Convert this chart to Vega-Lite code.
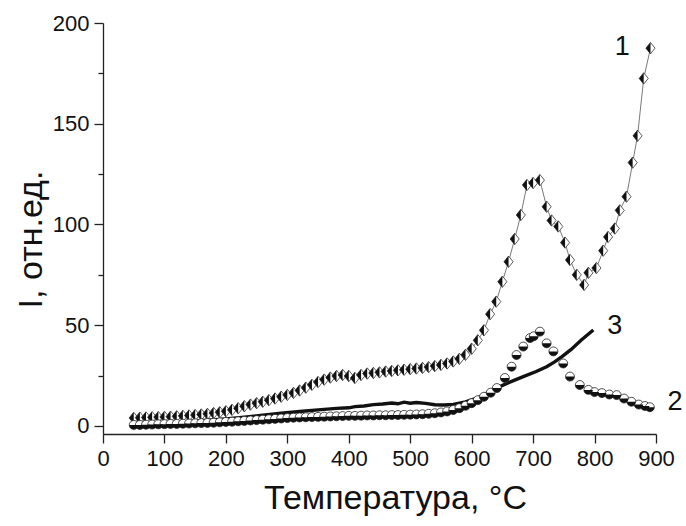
{
  "$schema": "https://vega.github.io/schema/vega-lite/v6.json",
  "autosize": "none",
  "width": 553,
  "height": 411,
  "padding": {"left": 103, "top": 23, "right": 30, "bottom": 92},
  "background": "white",
  "config": {
    "view": {"stroke": null},
    "font": "Liberation Sans",
    "axis": {
      "grid": false,
      "domainColor": "#222",
      "domainWidth": 1.3,
      "tickColor": "#222",
      "tickWidth": 1.3,
      "labelFont": "Liberation Sans",
      "labelFontSize": 22,
      "labelColor": "#111",
      "titleFont": "Liberation Sans",
      "titleFontSize": 34,
      "titleFontWeight": "normal",
      "titleColor": "#111"
    }
  },
  "datasets": {
    "c1": [
      {"T": 50, "I": 4.0}, {"T": 60, "I": 4.1}, {"T": 70, "I": 4.2}, {"T": 80, "I": 4.3}, {"T": 90, "I": 4.4},
      {"T": 100, "I": 4.5}, {"T": 110, "I": 4.6}, {"T": 120, "I": 4.8}, {"T": 130, "I": 5.0}, {"T": 140, "I": 5.2},
      {"T": 150, "I": 5.4}, {"T": 160, "I": 5.7}, {"T": 170, "I": 6.0}, {"T": 180, "I": 6.4}, {"T": 190, "I": 6.8},
      {"T": 200, "I": 7.3}, {"T": 210, "I": 8.0}, {"T": 220, "I": 8.8}, {"T": 230, "I": 9.8}, {"T": 240, "I": 10.6},
      {"T": 250, "I": 11.3}, {"T": 260, "I": 12.0}, {"T": 270, "I": 12.8}, {"T": 280, "I": 13.6}, {"T": 290, "I": 14.5},
      {"T": 300, "I": 15.4}, {"T": 310, "I": 16.4}, {"T": 320, "I": 17.6}, {"T": 330, "I": 19.0}, {"T": 340, "I": 20.4},
      {"T": 350, "I": 21.8}, {"T": 360, "I": 23.0}, {"T": 370, "I": 24.0}, {"T": 380, "I": 24.8}, {"T": 390, "I": 25.3},
      {"T": 400, "I": 24.8}, {"T": 410, "I": 23.8}, {"T": 420, "I": 25.3}, {"T": 430, "I": 26.0}, {"T": 440, "I": 26.3},
      {"T": 450, "I": 26.6}, {"T": 460, "I": 27.0}, {"T": 470, "I": 27.3}, {"T": 480, "I": 27.6}, {"T": 490, "I": 27.9},
      {"T": 500, "I": 28.2}, {"T": 510, "I": 28.5}, {"T": 520, "I": 28.8}, {"T": 530, "I": 29.2}, {"T": 540, "I": 29.7},
      {"T": 550, "I": 30.3}, {"T": 560, "I": 31.0}, {"T": 570, "I": 32.0}, {"T": 580, "I": 33.3}, {"T": 590, "I": 35.3},
      {"T": 600, "I": 38.3}, {"T": 610, "I": 42.5}, {"T": 620, "I": 47.5}, {"T": 630, "I": 55.5}, {"T": 640, "I": 61.7},
      {"T": 650, "I": 71.6}, {"T": 660, "I": 81.5}, {"T": 670, "I": 92.8}, {"T": 680, "I": 104.7}, {"T": 690, "I": 119.6},
      {"T": 700, "I": 120.6}, {"T": 711, "I": 122.0}, {"T": 722, "I": 108.8}, {"T": 730, "I": 102.0}, {"T": 741, "I": 99.0},
      {"T": 752, "I": 91.0}, {"T": 760, "I": 82.4}, {"T": 771, "I": 75.0}, {"T": 783, "I": 70.0}, {"T": 790, "I": 76.0},
      {"T": 803, "I": 78.4}, {"T": 814, "I": 87.0}, {"T": 822, "I": 93.8}, {"T": 833, "I": 98.0}, {"T": 841, "I": 107.0},
      {"T": 852, "I": 113.8}, {"T": 862, "I": 130.7}, {"T": 870, "I": 144.0}, {"T": 880, "I": 172.5}, {"T": 891, "I": 187.5}
    ],
    "c2": [
      {"T": 50, "I": 0.5}, {"T": 60, "I": 0.5}, {"T": 70, "I": 0.6}, {"T": 80, "I": 0.7}, {"T": 90, "I": 0.8},
      {"T": 100, "I": 0.9}, {"T": 110, "I": 1.0}, {"T": 120, "I": 1.0}, {"T": 130, "I": 1.1}, {"T": 140, "I": 1.2},
      {"T": 150, "I": 1.3}, {"T": 160, "I": 1.4}, {"T": 170, "I": 1.5}, {"T": 180, "I": 1.6}, {"T": 190, "I": 1.8},
      {"T": 200, "I": 2.0}, {"T": 210, "I": 2.1}, {"T": 220, "I": 2.3}, {"T": 230, "I": 2.5}, {"T": 240, "I": 2.7},
      {"T": 250, "I": 2.9}, {"T": 260, "I": 3.1}, {"T": 270, "I": 3.3}, {"T": 280, "I": 3.5}, {"T": 290, "I": 3.7},
      {"T": 300, "I": 3.9}, {"T": 310, "I": 4.1}, {"T": 320, "I": 4.2}, {"T": 330, "I": 4.3}, {"T": 340, "I": 4.4},
      {"T": 350, "I": 4.5}, {"T": 360, "I": 4.6}, {"T": 370, "I": 4.7}, {"T": 380, "I": 4.8}, {"T": 390, "I": 4.9},
      {"T": 400, "I": 5.0}, {"T": 410, "I": 5.0}, {"T": 420, "I": 5.1}, {"T": 430, "I": 5.2}, {"T": 440, "I": 5.2},
      {"T": 450, "I": 5.3}, {"T": 460, "I": 5.3}, {"T": 470, "I": 5.4}, {"T": 480, "I": 5.4}, {"T": 490, "I": 5.5},
      {"T": 500, "I": 5.6}, {"T": 510, "I": 5.7}, {"T": 520, "I": 5.8}, {"T": 530, "I": 6.0}, {"T": 540, "I": 6.3},
      {"T": 550, "I": 6.7}, {"T": 560, "I": 7.2}, {"T": 570, "I": 7.9}, {"T": 580, "I": 8.8}, {"T": 590, "I": 10.0},
      {"T": 600, "I": 11.3}, {"T": 610, "I": 12.8}, {"T": 620, "I": 14.5}, {"T": 631, "I": 16.5}, {"T": 641, "I": 18.8},
      {"T": 654, "I": 23.8}, {"T": 665, "I": 29.4}, {"T": 673, "I": 35.2}, {"T": 684, "I": 39.4}, {"T": 695, "I": 43.6},
      {"T": 701, "I": 44.5}, {"T": 711, "I": 46.8}, {"T": 722, "I": 41.0}, {"T": 733, "I": 37.0}, {"T": 749, "I": 31.0},
      {"T": 760, "I": 24.5}, {"T": 776, "I": 20.3}, {"T": 790, "I": 17.9}, {"T": 800, "I": 16.8}, {"T": 812, "I": 16.3},
      {"T": 824, "I": 15.6}, {"T": 836, "I": 15.3}, {"T": 848, "I": 13.6}, {"T": 860, "I": 12.0}, {"T": 872, "I": 10.6},
      {"T": 882, "I": 9.9}, {"T": 890, "I": 9.3}
    ],
    "c3": [
      {"T": 50, "I": 1.0}, {"T": 80, "I": 1.3}, {"T": 110, "I": 1.7}, {"T": 140, "I": 2.2}, {"T": 170, "I": 2.8},
      {"T": 200, "I": 3.5}, {"T": 230, "I": 4.3}, {"T": 260, "I": 5.3}, {"T": 290, "I": 6.3}, {"T": 320, "I": 7.2},
      {"T": 350, "I": 8.0}, {"T": 380, "I": 8.7}, {"T": 400, "I": 9.0}, {"T": 410, "I": 9.6}, {"T": 425, "I": 9.9},
      {"T": 440, "I": 10.6}, {"T": 455, "I": 10.9}, {"T": 470, "I": 11.4}, {"T": 480, "I": 11.0}, {"T": 490, "I": 11.8},
      {"T": 500, "I": 11.3}, {"T": 510, "I": 11.6}, {"T": 525, "I": 11.2}, {"T": 540, "I": 10.5}, {"T": 555, "I": 10.4},
      {"T": 570, "I": 10.7}, {"T": 590, "I": 11.9}, {"T": 605, "I": 13.5}, {"T": 614, "I": 14.5}, {"T": 627, "I": 16.5},
      {"T": 641, "I": 18.8}, {"T": 660, "I": 21.5}, {"T": 684, "I": 24.5}, {"T": 705, "I": 27.0}, {"T": 722, "I": 29.4},
      {"T": 735, "I": 31.8}, {"T": 747, "I": 34.4}, {"T": 762, "I": 38.0}, {"T": 778, "I": 42.5}, {"T": 798, "I": 47.6}
    ],
    "labels": [
      {"T": 845, "I": 188, "txt": "1"},
      {"T": 931, "I": 12, "txt": "2"},
      {"T": 833, "I": 49.5, "txt": "3"}
    ]
  },
  "layer": [
    {
      "data": {"name": "c1"},
      "mark": {"type": "line", "color": "#7a7a7a", "strokeWidth": 1},
      "encoding": {
        "x": {
          "field": "T", "type": "quantitative",
          "scale": {"domain": [0, 900], "nice": false, "zero": false},
          "axis": {
            "title": "Температура, °C",
            "values": [0, 50, 100, 150, 200, 250, 300, 350, 400, 450, 500, 550, 600, 650, 700, 750, 800, 850, 900],
            "labelExpr": "datum.value % 100 === 0 ? datum.label : ''",
            "tickSize": {"condition": {"test": "datum.value % 100 === 0", "value": 9}, "value": 5},
            "labelPadding": 5,
            "titlePadding": 12,
            "titleX": 292,
            "labelFlush": false
          }
        },
        "y": {
          "field": "I", "type": "quantitative",
          "scale": {"domain": [-4, 200], "nice": false, "zero": false},
          "axis": {
            "title": "I, отн.ед.",
            "values": [0, 25, 50, 75, 100, 125, 150, 175, 200],
            "labelExpr": "datum.value % 50 === 0 ? datum.label : ''",
            "tickSize": {"condition": {"test": "datum.value % 50 === 0", "value": 9}, "value": 5},
            "labelPadding": 5,
            "titlePadding": 4,
            "titleY": 216,
            "labelFlush": false
          }
        }
      }
    },
    {
      "data": {"name": "c1"},
      "mark": {"type": "point", "shape": "M0,-1L0.8,0L0,1L-0.8,0Z", "filled": true, "fill": "white", "stroke": "#333", "strokeWidth": 0.8, "size": 130, "opacity": 1},
      "encoding": {"x": {"field": "T", "type": "quantitative"}, "y": {"field": "I", "type": "quantitative"}}
    },
    {
      "data": {"name": "c1"},
      "mark": {"type": "point", "shape": "M0,-1L-0.8,0L0,1Z", "filled": true, "color": "#111", "size": 130, "opacity": 1},
      "encoding": {"x": {"field": "T", "type": "quantitative"}, "y": {"field": "I", "type": "quantitative"}}
    },
    {
      "data": {"name": "c3"},
      "mark": {"type": "line", "color": "#111", "strokeWidth": 3.4},
      "encoding": {"x": {"field": "T", "type": "quantitative"}, "y": {"field": "I", "type": "quantitative"}}
    },
    {
      "data": {"name": "c2"},
      "mark": {"type": "point", "shape": "circle", "filled": true, "fill": "white", "stroke": "#222", "strokeWidth": 0.8, "size": 80, "opacity": 1},
      "encoding": {"x": {"field": "T", "type": "quantitative"}, "y": {"field": "I", "type": "quantitative"}}
    },
    {
      "data": {"name": "c2"},
      "mark": {"type": "point", "shape": "M-1,0A1,1,0,0,0,1,0Z", "filled": true, "color": "#111", "size": 80, "opacity": 1},
      "encoding": {"x": {"field": "T", "type": "quantitative"}, "y": {"field": "I", "type": "quantitative"}}
    },
    {
      "data": {"name": "labels"},
      "mark": {"type": "text", "fontSize": 27, "font": "Liberation Sans", "color": "#111", "align": "center", "baseline": "middle"},
      "encoding": {
        "x": {"field": "T", "type": "quantitative"},
        "y": {"field": "I", "type": "quantitative"},
        "text": {"field": "txt"}
      }
    }
  ]
}
